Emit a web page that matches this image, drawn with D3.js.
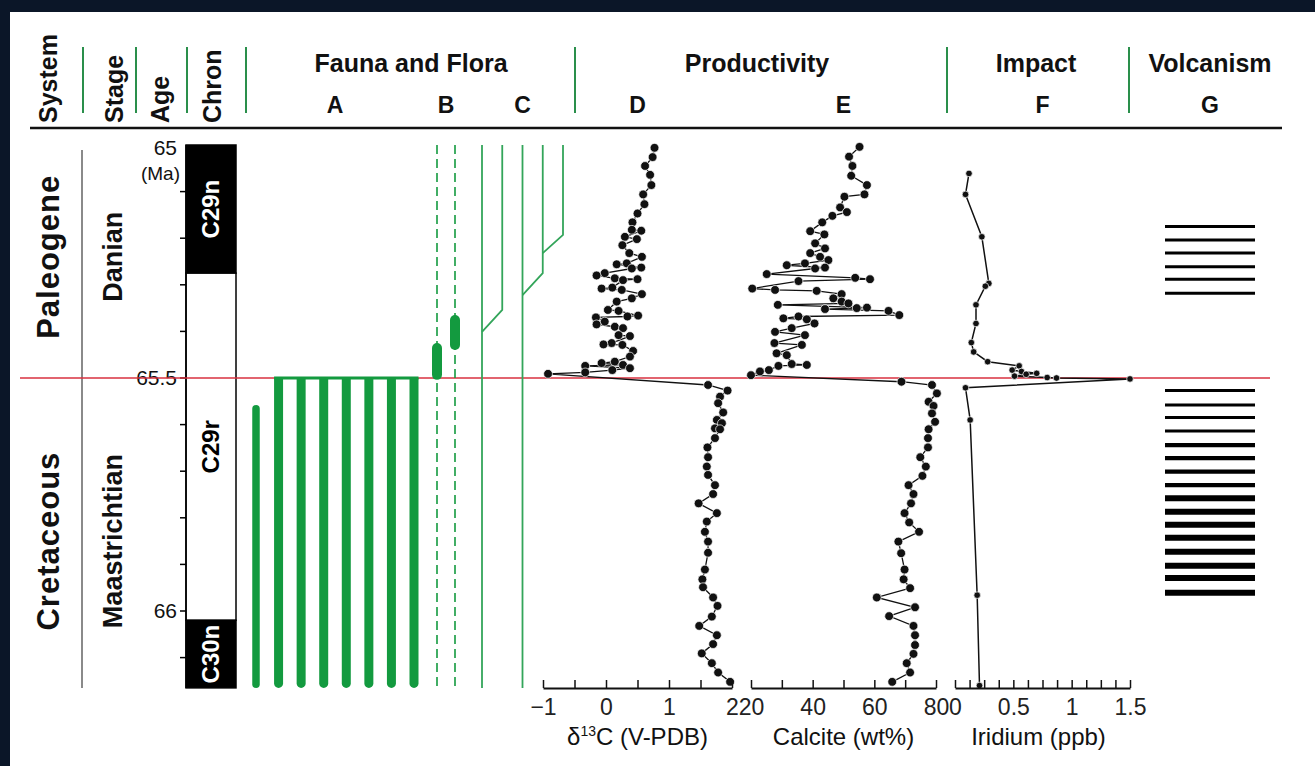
<!DOCTYPE html>
<html>
<head>
<meta charset="utf-8">
<script src="https://d3js.org/d3.v7.min.js"></script>
<style>
  body { margin: 0; background: #0b1628; }
  svg { display: block; }
  text { font-family: "Liberation Sans", Arial, Helvetica, sans-serif; fill: #111; }
</style>
</head>
<body>
<div id="chart"></div>
<script>
// ---- data (ages in Ma) ----
const headerCols = ['System', 'Stage', 'Age', 'Chron'];
const groupTitles = ['Fauna and Flora', 'Productivity', 'Impact', 'Volcanism'];
const columnLetters = ['A', 'B', 'C', 'D', 'E', 'F', 'G'];

// [name, top, base, label age]
const systems = [['Paleogene', 65.0, 65.5, 65.24], ['Cretaceous', 65.5, 66.165, 65.85]];
const stages = [['Danian', 65.0, 65.5, 65.24], ['Maastrichtian', 65.5, 66.165, 65.85]];
const chrons = [['C29n', 65.0, 65.275, 'n'], ['C29r', 65.275, 66.02, 'r'], ['C30n', 66.02, 66.165, 'n']];
const ageTicks = [65.1, 65.2, 65.3, 65.4, 65.5, 65.6, 65.7, 65.8, 65.9, 66.0, 66.1];
const ageLabels = [65, 65.5, 66];

// fauna A: first appearance (top) of each range, all run to the base
const faunaATop = [65.558, 65.5, 65.5, 65.5, 65.5, 65.5, 65.5, 65.5];
// fauna B: dashed ranges with short blooms [top, base]
const faunaBBloom = [[65.425, 65.504], [65.365, 65.44]];
// fauna C: lineages [top, bend, joinColumn, joinAge] (null = continues to base)
const faunaC = [[65.0, null, null, null], [65.0, 65.354, 0, 65.401], [65.0, null, null, null],
                [65.0, 65.275, 2, 65.322], [65.0, 65.193, 3, 65.232]];

const d13C = [
  [65.006,0.77],[65.026,0.74],[65.045,0.62],[65.064,0.70],[65.086,0.72],[65.106,0.59],[65.127,0.61],
  [65.147,0.50],[65.166,0.42],[65.182,0.41],[65.184,0.56],[65.197,0.30],[65.202,0.49],[65.215,0.26],
  [65.232,0.37],[65.240,0.57],[65.254,0.33],[65.256,0.17],[65.263,0.56],[65.265,0.41],[65.275,-0.02],
  [65.280,-0.15],[65.286,0.14],[65.288,0.50],[65.290,0.27],[65.306,0.10],[65.308,-0.07],[65.311,0.25],
  [65.320,0.57],[65.329,0.41],[65.336,0.17],[65.354,0.03],[65.356,0.20],[65.366,0.51],[65.368,0.34],
  [65.370,-0.16],[65.379,-0.02],[65.385,-0.15],[65.390,0.14],[65.393,0.27],[65.408,0.20],[65.410,0.38],
  [65.425,0.09],[65.428,-0.04],[65.429,0.26],[65.442,0.43],[65.454,0.38],[65.465,0.14],[65.468,-0.07],
  [65.472,0.27],[65.474,-0.33],[65.479,0.38],[65.483,0.10],[65.488,-0.33],[65.491,-0.92],
  [65.515,1.62],[65.527,1.93],[65.540,1.81],[65.554,1.78],[65.574,1.86],[65.590,1.76],[65.597,1.84],
  [65.608,1.73],[65.610,1.81],[65.629,1.73],[65.649,1.61],[65.670,1.62],[65.690,1.60],[65.708,1.62],
  [65.730,1.73],[65.749,1.70],[65.769,1.47],[65.790,1.76],[65.808,1.60],[65.830,1.57],[65.851,1.62],
  [65.875,1.62],[65.911,1.57],[65.932,1.53],[65.949,1.54],[65.971,1.70],[65.989,1.77],[66.012,1.68],
  [66.032,1.48],[66.052,1.76],[66.071,1.70],[66.091,1.52],[66.112,1.68],[66.132,1.78],[66.152,1.97]
];

const calcite = [
  [65.004,55.2],[65.025,51.8],[65.045,52.9],[65.066,52.5],[65.086,57.6],[65.106,56.8],[65.111,50.3],
  [65.134,48.9],[65.144,51.1],[65.152,46.4],[65.166,43.1],[65.185,39.2],[65.192,43.8],[65.211,40.8],
  [65.222,44.0],[65.232,39.2],[65.240,42.4],[65.247,45.1],[65.254,37.5],[65.258,31.6],[65.263,44.0],
  [65.265,40.8],[65.277,25.1],[65.285,53.8],[65.288,58.6],[65.292,35.4],[65.308,20.4],[65.311,27.8],
  [65.313,41.3],[65.320,49.4],[65.329,46.7],[65.336,49.4],[65.340,51.6],[65.343,28.7],[65.349,57.6],
  [65.350,54.3],[65.352,44.0],[65.356,64.6],[65.365,68.1],[65.368,35.4],[65.372,30.5],[65.374,38.1],
  [65.383,40.6],[65.393,33.2],[65.401,27.8],[65.408,37.5],[65.425,27.6],[65.429,36.5],[65.447,28.3],
  [65.451,31.6],[65.470,33.2],[65.472,38.1],[65.474,28.9],[65.483,25.8],[65.486,22.9],[65.494,20.0],
  [65.508,68.8],[65.515,78.7],[65.533,80.3],[65.551,77.6],[65.560,79.2],[65.576,78.7],[65.594,79.7],
  [65.610,77.6],[65.629,77.4],[65.649,77.4],[65.670,74.9],[65.690,76.7],[65.710,75.6],[65.730,71.1],
  [65.749,72.7],[65.769,71.9],[65.790,69.8],[65.810,71.3],[65.830,74.5],[65.851,67.8],[65.876,68.7],
  [65.911,69.8],[65.932,69.5],[65.951,71.6],[65.971,60.8],[65.992,73.2],[66.011,64.8],[66.032,72.7],
  [66.052,73.2],[66.073,73.2],[66.092,72.7],[66.112,70.5],[66.132,71.6],[66.152,65.8]
];

const iridium = [
  [65.061,0.12],[65.106,0.09],[65.197,0.23],[65.297,0.29],[65.303,0.26],[65.343,0.18],[65.383,0.18],
  [65.424,0.14],[65.444,0.16],[65.465,0.28],[65.474,0.55],[65.483,0.49],[65.486,0.57],[65.490,0.70],
  [65.492,0.61],[65.496,0.51],[65.499,0.79],[65.500,0.87],[65.502,1.50],[65.521,0.09],[65.590,0.13],
  [65.966,0.19],[66.160,0.21]
];

// volcanism: [age, intensity class]
const volcanism = [
  [65.175,1],[65.204,1],[65.232,1],[65.261,1],[65.288,1],[65.318,1],
  [65.527,1],[65.558,1],[65.585,1],[65.614,1],[65.644,2],[65.672,2],[65.701,2],[65.730,2],
  [65.758,3],[65.787,3],[65.815,3],[65.843,3],[65.873,3],[65.903,3],[65.929,3],[65.961,3]
];

const boundaryAge = 65.5;
const baseAge = 66.165;
const dTicks = [-1, -0.5, 0, 0.5, 1, 1.5, 2];
const eTicks = [20, 30, 40, 50, 60, 70, 80];
const fTicks = [0, 0.125, 0.25, 0.375, 0.5, 0.625, 0.75, 0.875, 1, 1.125, 1.25, 1.375, 1.5];
const dLabels = [-1, 0, 1, 2], eLabels = [20, 40, 60, 80], fLabels = [0, 0.5, 1, 1.5];

// ---- layout ----
const W = 1315, H = 766;
const green = '#139a3f', lineGreen = '#33a55a', sepGreen = '#2a8f4b';
const svg = d3.select('#chart').append('svg').attr('width', W).attr('height', H);
svg.append('rect').attr('x', 10).attr('y', 12).attr('width', W - 10).attr('height', H - 12).attr('fill', '#fff');

const y = d3.scaleLinear().domain([65, 66]).range([145, 611]);
const xD = d3.scaleLinear().domain([-1, 2]).range([543, 732]);
const xE = d3.scaleLinear().domain([20, 80]).range([751, 936]);
const xF = d3.scaleLinear().domain([0, 1.5]).range([955, 1130]);
const xA = d3.scalePoint().domain(d3.range(faunaATop.length)).range([256, 414]);
const xB = d3.scalePoint().domain([0, 1]).range([437, 455]);
const xC = d3.scalePoint().domain(d3.range(faunaC.length)).range([482, 563]);
const xG = [1165, 1255];
const axisY = 688;

// ---- header ----
svg.append('line').attr('x1', 30).attr('x2', 1282).attr('y1', 128).attr('y2', 128)
  .attr('stroke', '#111').attr('stroke-width', 2.5);
svg.selectAll('.sep').data([83, 136, 187, 246, 575, 947, 1129]).join('line')
  .attr('x1', d => d).attr('x2', d => d).attr('y1', 47).attr('y2', 113)
  .attr('stroke', sepGreen).attr('stroke-width', 2);
svg.selectAll('.hcol').data(headerCols).join('text')
  .attr('transform', (d, i) => `translate(${[48, 114, 160, 212][i]},123) rotate(-90)`)
  .attr('dy', '0.35em').attr('font-size', 25).attr('font-weight', 'bold').text(d => d);
svg.selectAll('.gtitle').data(groupTitles).join('text')
  .attr('x', (d, i) => [411, 757, 1036, 1210][i]).attr('y', 72)
  .attr('text-anchor', 'middle').attr('font-size', 25).attr('font-weight', 'bold').text(d => d);
const letterX = [(xA.range()[0] + xA.range()[1]) / 2, 446, (xC.range()[0] + xC.range()[1]) / 2,
  (xD.range()[0] + xD.range()[1]) / 2, (xE.range()[0] + xE.range()[1]) / 2,
  (xF.range()[0] + xF.range()[1]) / 2, (xG[0] + xG[1]) / 2];
svg.selectAll('.letter').data(columnLetters).join('text')
  .attr('x', (d, i) => letterX[i]).attr('y', 113)
  .attr('text-anchor', 'middle').attr('font-size', 23).attr('font-weight', 'bold').text(d => d);

// ---- system / stage ----
svg.append('line').attr('x1', 82).attr('x2', 82).attr('y1', 150).attr('y2', y(baseAge))
  .attr('stroke', '#8a8a8a').attr('stroke-width', 2);
svg.selectAll('.sys').data(systems).join('text')
  .attr('transform', d => `translate(48,${y(d[3])}) rotate(-90)`)
  .attr('dy', '0.35em').attr('text-anchor', 'middle').attr('font-size', 31).attr('font-weight', 'bold')
  .attr('fill', '#333').attr('letter-spacing', 1).text(d => d[0]);
svg.selectAll('.stg').data(stages).join('text')
  .attr('transform', d => `translate(113,${y(d[3])}) rotate(-90)`)
  .attr('dy', '0.35em').attr('text-anchor', 'middle').attr('font-size', 27).attr('font-weight', 'bold')
  .attr('fill', '#222').text(d => d[0]);

// ---- age axis + chron ----
const chronX = 186, chronW = 50;
svg.selectAll('.chron').data(chrons).join('rect')
  .attr('x', chronX).attr('width', chronW)
  .attr('y', d => y(d[1])).attr('height', d => y(d[2]) - y(d[1]))
  .attr('fill', d => d[3] === 'n' ? '#000' : '#fff')
  .attr('stroke', '#000').attr('stroke-width', 1.5);
svg.selectAll('.chronlab').data(chrons).join('text')
  .attr('transform', d => `translate(${chronX + chronW / 2},${y((d[1] + d[2]) / 2)}) rotate(-90)`)
  .attr('dy', '0.35em').attr('text-anchor', 'middle').attr('font-size', 24).attr('font-weight', 'bold')
  .style('fill', d => d[3] === 'n' ? '#fff' : '#000').text(d => d[0]);
svg.append('line').attr('x1', chronX).attr('x2', chronX).attr('y1', y(65)).attr('y2', y(baseAge))
  .attr('stroke', '#000').attr('stroke-width', 1.5);
svg.selectAll('.atick').data(ageTicks).join('line')
  .attr('x1', chronX - 6).attr('x2', chronX).attr('y1', d => y(d)).attr('y2', d => y(d))
  .attr('stroke', '#000').attr('stroke-width', 1.5);
svg.selectAll('.alab').data(ageLabels).join('text')
  .attr('x', 177).attr('y', d => y(d) + (d === 65 ? 3 : 0)).attr('dy', '0.35em')
  .attr('text-anchor', 'end').attr('font-size', 21).attr('fill', '#333').text(d => d);
svg.append('text').attr('x', 180).attr('y', y(65) + 28).attr('dy', '0.35em')
  .attr('text-anchor', 'end').attr('font-size', 19).attr('fill', '#333').text('(Ma)');

// ---- K-Pg boundary ----
svg.append('line').attr('x1', 20).attr('x2', 1270).attr('y1', y(boundaryAge)).attr('y2', y(boundaryAge))
  .attr('stroke', '#d9303f').attr('stroke-width', 1.6);

// ---- fauna and flora ----
const barW = 9;
function capsule(x, top, base, w, roundTop) {
  const r = w / 2;
  const t = roundTop ? top + r : top;
  let p = `M${x - r},${t} V${base - r} A${r},${r} 0 0 0 ${x + r},${base - r} V${t}`;
  p += roundTop ? ` A${r},${r} 0 0 0 ${x - r},${t} Z` : ' Z';
  return p;
}
svg.selectAll('.faunaA').data(faunaATop).join('path')
  .attr('d', (d, i) => capsule(xA(i), y(d), y(baseAge), i === 0 ? 7.5 : barW, d !== boundaryAge))
  .attr('fill', green);
const aFull = faunaATop.map((d, i) => i).filter(i => faunaATop[i] === boundaryAge);
svg.append('line').attr('x1', xA(aFull[0]) - barW / 2).attr('x2', xA(aFull[aFull.length - 1]) + barW / 2)
  .attr('y1', y(boundaryAge)).attr('y2', y(boundaryAge)).attr('stroke', green).attr('stroke-width', 3);

svg.selectAll('.faunaB').data([0, 1]).join('line')
  .attr('x1', d => xB(d)).attr('x2', d => xB(d)).attr('y1', y(65)).attr('y2', y(baseAge))
  .attr('stroke', green).attr('stroke-width', 1.6).attr('stroke-dasharray', '9,5');
svg.selectAll('.bloom').data(faunaBBloom).join('path')
  .attr('d', (d, i) => capsule(xB(i), y(d[0]), y(d[1]), 10, true)).attr('fill', green);

svg.selectAll('.faunaC').data(faunaC).join('path')
  .attr('d', (d, i) => {
    const x = xC(i);
    if (d[1] === null) return `M${x},${y(d[0])} V${y(baseAge)}`;
    return `M${x},${y(d[0])} V${y(d[1])} L${xC(d[2])},${y(d[3])}`;
  })
  .attr('fill', 'none').attr('stroke', lineGreen).attr('stroke-width', 1.8);

// ---- data series ----
function series(data, xs, r, lw) {
  svg.append('path').datum(data)
    .attr('d', d3.line().x(d => xs(d[1])).y(d => y(d[0])))
    .attr('fill', 'none').attr('stroke', '#111').attr('stroke-width', lw);
  svg.append('g').selectAll('circle').data(data).join('circle')
    .attr('cx', d => xs(d[1])).attr('cy', d => y(d[0])).attr('r', r)
    .attr('fill', '#111').attr('stroke', '#fff').attr('stroke-width', 0.7);
}
series(d13C, xD, 4.4, 1.3);
series(calcite, xE, 4.4, 1.3);
series(iridium, xF, 3.3, 1.5);

// ---- volcanism ----
svg.selectAll('.volc').data(volcanism).join('line')
  .attr('x1', xG[0]).attr('x2', xG[1]).attr('y1', d => y(d[0])).attr('y2', d => y(d[0]))
  .attr('stroke', '#000').attr('stroke-width', d => [0, 3, 4.2, 6][d[1]]);

// ---- bottom axes ----
function bottomAxis(scale, ticks, labels, fmt) {
  const g = svg.append('g').attr('transform', `translate(0,${axisY})`)
    .call(d3.axisBottom(scale).tickValues(ticks)
      .tickFormat(d => labels.includes(d) ? fmt(d) : '')
      .tickSizeInner(-8).tickSizeOuter(0).tickPadding(11));
  g.select('.domain').attr('stroke', '#111').attr('stroke-width', 1.8);
  g.selectAll('.tick line').attr('stroke', '#111').attr('stroke-width', 1.5);
  g.selectAll('.tick text').attr('font-size', 23)
    .attr('font-family', '"Liberation Sans", Arial, sans-serif').style('fill', '#222');
  return g;
}
bottomAxis(xD, dTicks, dLabels, d => d < 0 ? '\u2212' + Math.abs(d) : d);
bottomAxis(xE, eTicks, eLabels, d => d);
bottomAxis(xF, fTicks, fLabels, d => d);

const t1 = svg.append('text').attr('x', (xD.range()[0] + xD.range()[1]) / 2).attr('y', 745)
  .attr('text-anchor', 'middle').attr('font-size', 24).attr('fill', '#222');
t1.append('tspan').text('\u03b4');
t1.append('tspan').attr('font-size', 14).attr('dy', -9).text('13');
t1.append('tspan').attr('dy', 9).text('C (V-PDB)');
svg.append('text').attr('x', (xE.range()[0] + xE.range()[1]) / 2).attr('y', 745)
  .attr('text-anchor', 'middle').attr('font-size', 24).attr('fill', '#222').text('Calcite (wt%)');
svg.append('text').attr('x', (xF.range()[0] + xF.range()[1]) / 2 - 4).attr('y', 745)
  .attr('text-anchor', 'middle').attr('font-size', 24).attr('fill', '#222').text('Iridium (ppb)');
</script>
</body>
</html>
